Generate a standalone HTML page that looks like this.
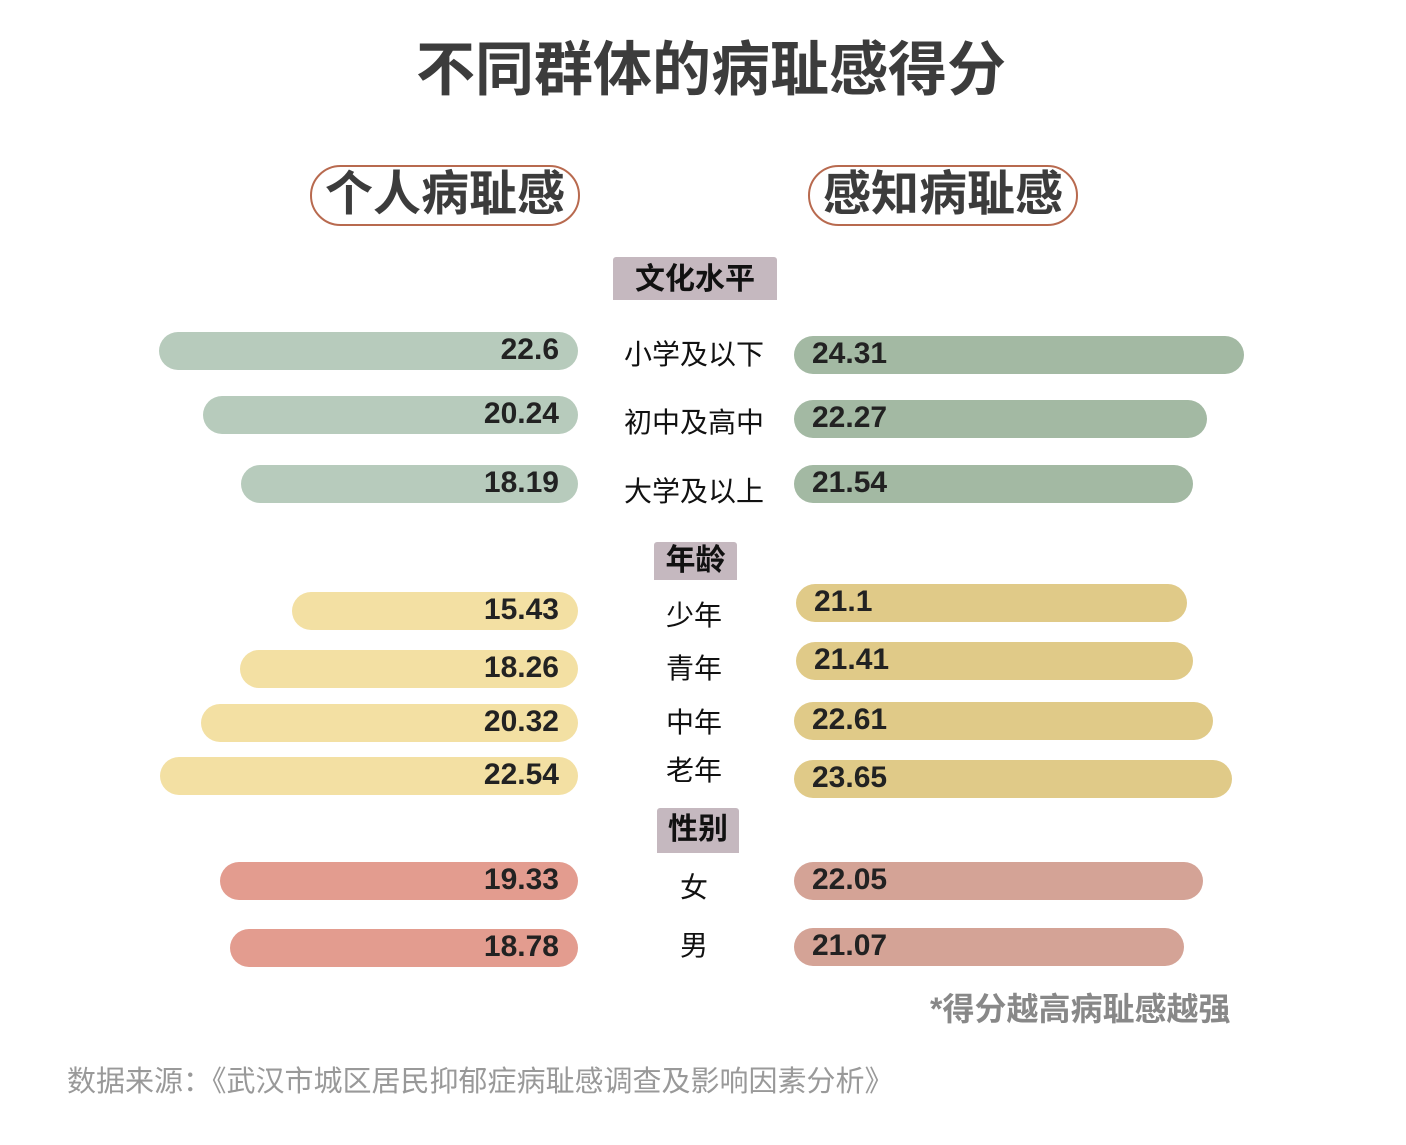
<!DOCTYPE html>
<html><head><meta charset="utf-8"><style>
body{margin:0;width:1406px;height:1145px;background:#fff;position:relative;overflow:hidden;font-family:"Liberation Sans","Noto Sans CJK SC",sans-serif}
.a{position:absolute}
.pill{position:absolute;border:2.5px solid #b86a4f;border-radius:32px;box-sizing:border-box;height:61px;width:270px;text-align:center;font-size:48px;font-weight:bold;color:#3c3c3c;line-height:56px;white-space:nowrap}
.cat{position:absolute;background:#c5b8bf;font-weight:bold;font-size:30px;color:#111;text-align:center;border-radius:3px 3px 0 0}
.lab{position:absolute;font-size:28px;color:#111;text-align:center;width:200px;left:594px}
.bar{position:absolute;height:38px;border-radius:19px}
.val{position:absolute;font-size:30px;font-weight:bold;color:#222;line-height:38px}
</style></head><body>
<div class="a" style="left:0;width:1422px;top:22px;text-align:center;font-size:59px;font-weight:bold;color:#3c3c3c">不同群体的病耻感得分</div>
<div class="pill" style="left:310px;top:165px">个人病耻感</div>
<div class="pill" style="left:808px;top:165px">感知病耻感</div>
<div class="cat" style="left:613px;top:257px;width:164px;height:43px;line-height:46px">文化水平</div>
<div class="cat" style="left:654px;top:542px;width:83px;height:38px;line-height:38px">年龄</div>
<div class="cat" style="left:657px;top:808px;width:82px;height:45px;line-height:44px">性别</div>
<div id="bars"></div>
<div class="a" style="left:930px;top:984px;font-size:32px;font-weight:bold;color:#888">*得分越高病耻感越强</div>
<div class="a" style="left:67px;top:1058px;font-size:29px;color:#999">数据来源：《武汉市城区居民抑郁症病耻感调查及影响因素分析》</div>
<script>
const categories=["小学及以下","初中及高中","大学及以上","少年","青年","中年","老年","女","男"];
const personal=[22.6,20.24,18.19,15.43,18.26,20.32,22.54,19.33,18.78];
const perceived=[24.31,22.27,21.54,21.1,21.41,22.61,23.65,22.05,21.07];
const groups=[0,0,0,1,1,1,1,2,2];
const leftColors=["#b7cbbc","#f3e0a3","#e39c8f"];
const rightColors=["#a3b9a3","#e0ca88","#d4a396"];
const yL=[351,415,484,611,669,723,776,881,948];
const yR=[355,419,484,603,661,721,779,881,947];
const yLab=[352,420,489,613,666,720,768,885,943];
const scale=v=>v*18.53;
const root=document.getElementById('bars');
categories.forEach((c,i)=>{
 const g=groups[i];
 const lw=scale(personal[i]);
 const lb=document.createElement('div');lb.className='bar';
 
 
 lb.style.cssText=`left:${578-lw}px;width:${lw}px;top:${yL[i]-19}px;background:${leftColors[g]}`;
 root.appendChild(lb);
 const lv=document.createElement('div');lv.className='val';
 
 
 lv.style.cssText=`right:${1406-559}px;top:${yL[i]-20}px`;lv.textContent=personal[i];
 root.appendChild(lv);
 const rw=scale(perceived[i]);
 const rb=document.createElement('div');rb.className='bar';
 
 
 const rx=g==1&&i<5?796:794;
 rb.style.cssText=`left:${rx}px;width:${rw}px;top:${yR[i]-19}px;background:${rightColors[g]}`;
 root.appendChild(rb);
 const rv=document.createElement('div');rv.className='val';
 
 
 rv.style.cssText=`left:${rx+18}px;top:${yR[i]-20}px`;rv.textContent=perceived[i];
 root.appendChild(rv);
 const lab=document.createElement('div');lab.className='lab';
 
 
 lab.style.top=(yLab[i]-19)+'px';lab.textContent=c;
 root.appendChild(lab);
});
</script>
</body></html>
